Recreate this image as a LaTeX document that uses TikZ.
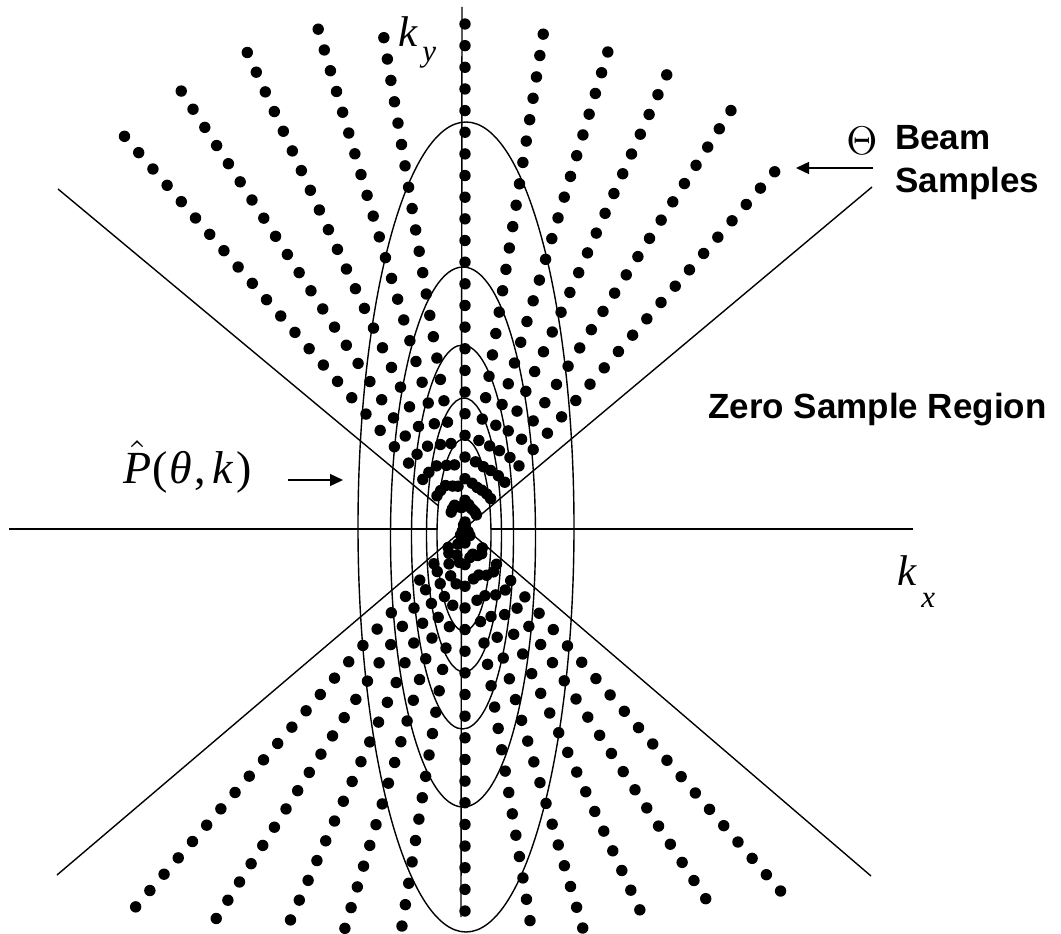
\documentclass[tikz,border=0pt]{standalone}
\usepackage{fontspec}
\newfontfamily\lsans{Liberation Sans}
\newfontfamily\lserif{Liberation Serif}
\usetikzlibrary{arrows.meta}
\tikzset{
  axisline/.style={line width=1.4pt},
  ell/.style={line width=1.4pt},
  dotc/.style={fill=black},
  ptr/.style={line width=1.4pt,-{Triangle[length=13pt,width=12pt]}},
  boldlbl/.style={anchor=base west,inner sep=0pt,font=\lsans\bfseries\fontsize{35}{35}\selectfont},
}
\begin{document}
\begin{tikzpicture}[x=1pt,y=-1pt]
\useasboundingbox (0,0) rectangle (1061,934);
% centre and line ends
\coordinate (O) at (465,528);
\coordinate (hl) at (9,529);
\coordinate (hr) at (913,529);
\coordinate (vt) at (462,7);
\coordinate (vb) at (461,917);
\coordinate (ul) at (58,189);
\coordinate (ur) at (872,187);
\coordinate (ll) at (57,875);
\coordinate (lr) at (871,876);
% axes part 1
\draw[axisline] (hl) -- (hr);
\draw[axisline] (O) -- (ul);
% innermost ellipse (white inside)
\draw[ell,fill=white] (464,535) ellipse [x radius=27pt, y radius=96pt];
\draw[axisline] (O) -- (ur);
\draw[axisline] (O) -- (ll);
\draw[axisline] (O) -- (lr);
\draw[axisline] (vt) -- (vb);
% ellipses
\draw[ell] (466,527) ellipse [x radius=108pt, y radius=405pt];
\draw[ell] (463,537) ellipse [x radius=72.5pt, y radius=270pt];
\draw[ell] (462.5,537) ellipse [x radius=51pt, y radius=192pt];
\draw[ell] (464,535) ellipse [x radius=37.5pt, y radius=137pt];
% beam samples
\foreach \ang/\ru/\rd in {-41/519/481, -33/521/442, -24.6/523/420, -16.4/520/417, -9.4/497/398, 0/504/383, 9/500/403, 16.7/497/418, 24/496/429, 32.5/495/463, 41/472/502}{
  \pgfmathtruncatemacro{\nup}{floor(\ru/21.65)}
  \pgfmathtruncatemacro{\ndn}{floor(\rd/21.65)}
  \foreach \i in {0,...,\nup}{
    \fill[dotc] ({465+(\ru-\i*21.65)*sin(\ang)},{528-(\ru-\i*21.65)*cos(\ang)}) circle (5.7pt);
  }
  \foreach \i in {0,...,\ndn}{
    \fill[dotc] ({465-(\rd-\i*21.65)*sin(\ang)},{528+(\rd-\i*21.65)*cos(\ang)}) circle (5.7pt);
  }
}
% labels
\node[anchor=base west,inner sep=0pt] (ky) at (398,47) {\lserif\fontsize{43}{43}\selectfont\itshape k\kern5pt\raisebox{-15pt}{\fontsize{31}{31}\selectfont y}};
\node[anchor=base west,inner sep=0pt] (kx) at (897,585) {\lserif\fontsize{43}{43}\selectfont\itshape k\kern5pt\raisebox{-22pt}{\fontsize{31}{31}\selectfont x}};
\node[anchor=base west,inner sep=0pt] (P) at (123,483) {\scalebox{4.6}{$\hat{\mbox{\lserif\itshape P}}$}\lserif\fontsize{46}{46}\selectfont\kern1pt(\kern2pt\textit{θ}\kern2pt,\kern7pt\textit{k}\kern3pt)};
\coordinate (pt) at (288,480);
\coordinate (ph) at (343,480);
\draw[ptr] (pt) -- (ph);
\node[inner sep=0pt] (theta) at (862,141) {\scalebox{4}{$\Theta$}};
\node[boldlbl] (beam) at (895,149) {Beam};
\node[boldlbl] (samp) at (895,192) {Samples};
\coordinate (bt) at (873,168);
\coordinate (bh) at (796,168);
\draw[ptr] (bt) -- (bh);
\node[boldlbl] (zero) at (708,418) {Zero Sample Region};
\end{tikzpicture}
\end{document}
